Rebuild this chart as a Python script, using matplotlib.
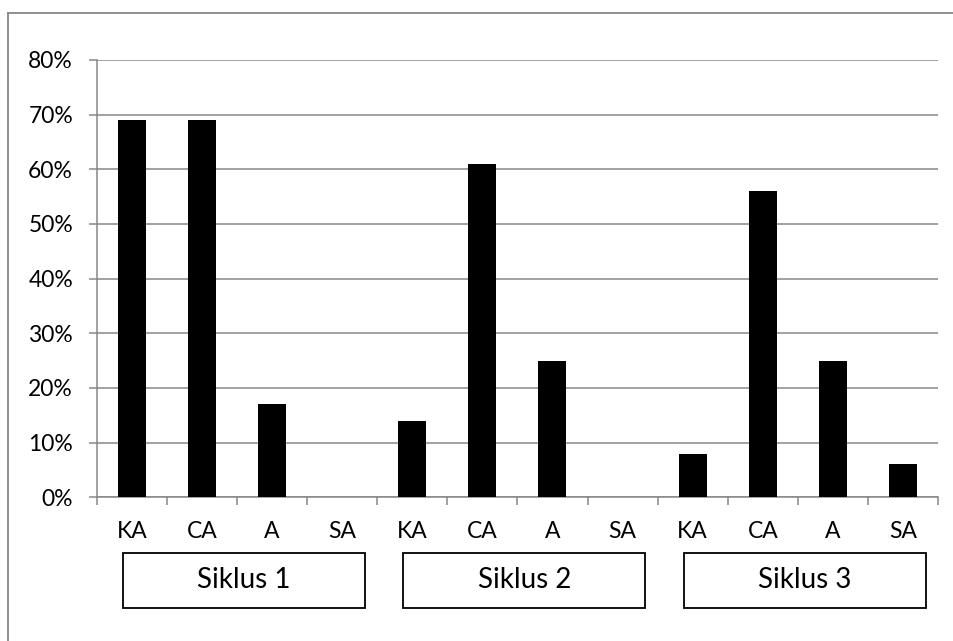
import numpy as np
import matplotlib
matplotlib.use("Agg")
import matplotlib.pyplot as plt
from matplotlib.patches import Rectangle
from matplotlib.lines import Line2D

# data
groups = ["Siklus 1", "Siklus 2", "Siklus 3"]
categories = ["KA", "CA", "A", "SA"]
siklus1 = [69, 69, 17, 0]
siklus2 = [14, 61, 25, 0]
siklus3 = [8, 56, 25, 6]
yticks = [0, 10, 20, 30, 40, 50, 60, 70, 80]

plt.rcParams["font.family"] = ["Lato", "DejaVu Sans"]
GRID = "#878787"
FS = 16.5

values = siklus1 + siklus2 + siklus3
labels = categories * len(groups)
x = np.arange(len(values))

fig = plt.figure(figsize=(9.54, 6.41), dpi=100)
ax = fig.add_axes([0.1014, 0.2242, 0.8819, 0.6822])

ax.bar(x, values, width=0.4, color="black", zorder=3)

ax.set_xlim(-0.5, len(values) - 0.5)
ax.set_ylim(0, 80)
ax.set_yticks(yticks)
ax.set_yticklabels([f"{v}%" for v in yticks])
ax.yaxis.grid(True, color=GRID, lw=1.1)
ax.set_axisbelow(True)

# boundaries get the tick marks, category names sit between them
ax.set_xticks(np.arange(-0.5, len(values)))
ax.set_xticklabels([])
ax.set_xticks(x, minor=True)
ax.set_xticklabels(labels, minor=True)
ax.tick_params(axis="x", which="major", direction="out", length=6, width=1.1, color=GRID)
ax.tick_params(axis="x", which="minor", length=0, pad=17, labelsize=FS)
ax.tick_params(axis="y", direction="out", length=6, width=1.1, color=GRID, pad=11, labelsize=FS)

for side in ["top", "right"]:
    ax.spines[side].set_visible(False)
for side in ["left", "bottom"]:
    ax.spines[side].set_color(GRID)
    ax.spines[side].set_linewidth(1.1)

# group boxes under the category names
trans = ax.get_xaxis_transform()
n = len(categories)
for i, g in enumerate(groups):
    cx = i * n + (n - 1) / 2 + 0.1
    w = 3.45
    ax.add_patch(Rectangle((cx - w / 2, -0.2525), w, 0.1258, transform=trans,
                           facecolor="white", edgecolor="black", lw=1.3, clip_on=False))
    ax.text(cx, -0.1896, g, transform=trans, ha="center", va="center", fontsize=20)

# outer chart frame (only top and left edges fall inside the image)
fig.add_artist(Line2D([8.5 / 954, 8.5 / 954], [0, 1 - 13 / 641], transform=fig.transFigure,
                      color=GRID, lw=1.3))
fig.add_artist(Line2D([8.5 / 954, 1], [1 - 13 / 641, 1 - 13 / 641], transform=fig.transFigure,
                      color=GRID, lw=1.3))

fig.savefig("out.png", dpi=100)
